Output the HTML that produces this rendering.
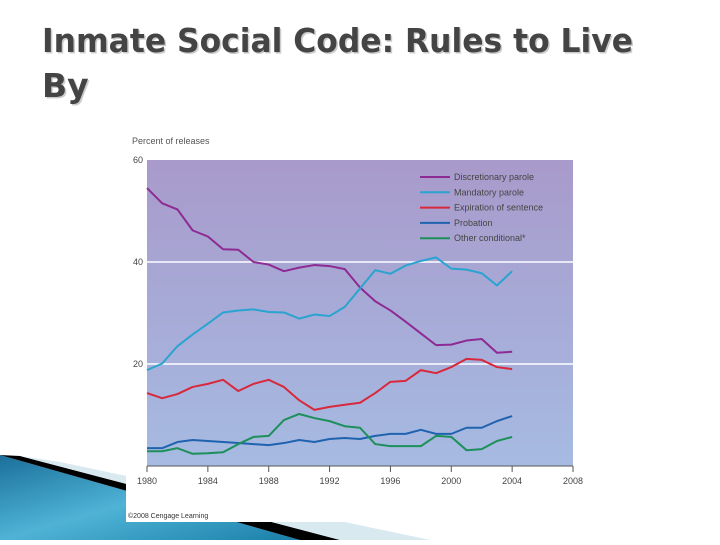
<!DOCTYPE html>
<html><head><meta charset="utf-8"><style>
html,body{margin:0;padding:0;background:#fff;}
body{width:720px;height:540px;overflow:hidden;position:relative;font-family:"Liberation Sans",sans-serif;}
</style></head><body>
<svg width="720" height="540" viewBox="0 0 720 540" xmlns="http://www.w3.org/2000/svg">
<defs>
<linearGradient id="bg" x1="0" y1="0" x2="0" y2="1"><stop offset="0" stop-color="#a89acb"/><stop offset="1" stop-color="#a6bbe2"/></linearGradient>
<linearGradient id="wedge" x1="0" y1="0" x2="1" y2="1"><stop offset="0" stop-color="#1a6f9a"/><stop offset="0.5" stop-color="#4fb3d6"/><stop offset="1" stop-color="#1a7fa8"/></linearGradient>
</defs>
<g>
<polygon points="0,455 0,540 300,540" fill="url(#wedge)"/>
<polygon points="0,455 20,456 340,540 300,540" fill="#000"/>
<polygon points="20,456 60,462 430,540 340,540" fill="#d8e9f0"/>
</g>
<g font-family="DejaVu Sans, sans-serif" font-weight="bold" font-size="33">
<text x="43.5" y="53.5" fill="#ccc"><tspan textLength="591" lengthAdjust="spacingAndGlyphs">Inmate Social Code: Rules to Live</tspan></text>
<text x="43.5" y="98.5" fill="#ccc">By</text>
<text x="42" y="52" fill="#444"><tspan textLength="591" lengthAdjust="spacingAndGlyphs">Inmate Social Code: Rules to Live</tspan></text>
<text x="42" y="97" fill="#444">By</text>
</g>
<rect x="126" y="128" width="466" height="394" fill="#fff"/>
<rect x="147" y="160" width="426" height="306" fill="url(#bg)"/>
<g id="chart"></g>
<text x="132" y="144" font-size="9" fill="#555">Percent of releases</text>
<text x="128" y="518" font-size="7" fill="#333">©2008 Cengage Learning</text>
</svg>
<script>
const years=[1980,1981,1982,1983,1984,1985,1986,1987,1988,1989,1990,1991,1992,1993,1994,1995,1996,1997,1998,1999,2000,2001,2002,2003,2004];
const discretionary=[54.5,51.5,50.3,46.2,45,42.5,42.4,40,39.5,38.2,38.9,39.4,39.2,38.6,35,32.3,30.5,28.3,26,23.7,23.8,24.6,24.9,22.2,22.4];
const mandatory=[18.8,20.1,23.5,25.8,27.9,30.1,30.5,30.7,30.2,30.1,28.9,29.7,29.4,31.2,34.8,38.4,37.7,39.3,40.2,40.9,38.7,38.5,37.8,35.4,38.2];
const expiration=[14.3,13.3,14.1,15.5,16.1,16.9,14.7,16.1,16.9,15.5,12.9,11,11.6,12,12.4,14.3,16.5,16.7,18.8,18.2,19.4,21,20.8,19.4,19];
const probation=[3.5,3.5,4.7,5.1,4.9,4.7,4.5,4.3,4.1,4.5,5.1,4.7,5.3,5.5,5.3,5.9,6.3,6.3,7.1,6.3,6.3,7.5,7.5,8.8,9.8];
const other=[2.9,2.9,3.5,2.4,2.5,2.7,4.3,5.7,5.9,9,10.2,9.4,8.8,7.8,7.5,4.3,3.9,3.9,3.9,5.9,5.7,3.1,3.3,4.9,5.7];
const xTicks=[1980,1984,1988,1992,1996,2000,2004,2008];
const yTicks=[20,40,60];
const seriesNames=["Discretionary parole","Mandatory parole","Expiration of sentence","Probation","Other conditional*"];
const seriesData=[discretionary,mandatory,expiration,probation,other];
const colors=["#8e2a93","#2aa3d0","#d8283c","#1f63b0","#1d8f5a"];
const X=y=>147+(y-1980)*(426/28);
const Y=v=>466-v*5.1;
const NS="http://www.w3.org/2000/svg";
const g=document.getElementById('chart');
function mk(t,a){const e=document.createElementNS(NS,t);for(const k in a)e.setAttribute(k,a[k]);g.appendChild(e);return e;}
yTicks.forEach(t=>{
 if(t<60){const l=mk('line',{x1:147,x2:573,y1:Y(t),y2:Y(t),stroke:'#fff','stroke-width':1.5});
 
 }
 const tx=mk('text',{x:133,y:Y(t)+3,'font-size':9,fill:'#444'});tx.textContent=t;
 
 
});
xTicks.forEach(t=>{
 const l=mk('line',{x1:X(t),x2:X(t),y1:466,y2:472,stroke:'#555','stroke-width':1});
 
 
 const tx=mk('text',{x:X(t),y:484,'font-size':9,fill:'#444','text-anchor':'middle'});tx.textContent=t;
 
 
});
const ax=mk('line',{x1:147,x2:573,y1:466,y2:466,stroke:'#555','stroke-width':1});


seriesData.forEach((d,i)=>{
 const p=mk('polyline',{points:d.map((v,j)=>X(years[j])+','+Y(v)).join(' '),fill:'none',stroke:colors[i],'stroke-width':2,'stroke-linejoin':'round'});
 
 
 const ly=177+i*15.3;
 const ll=mk('line',{x1:420,x2:450,y1:ly,y2:ly,stroke:colors[i],'stroke-width':2});
 
 
 const lt=mk('text',{x:454,y:ly+3,'font-size':9,fill:'#444'});lt.textContent=seriesNames[i];
 
 
});
</script>
</body></html>
